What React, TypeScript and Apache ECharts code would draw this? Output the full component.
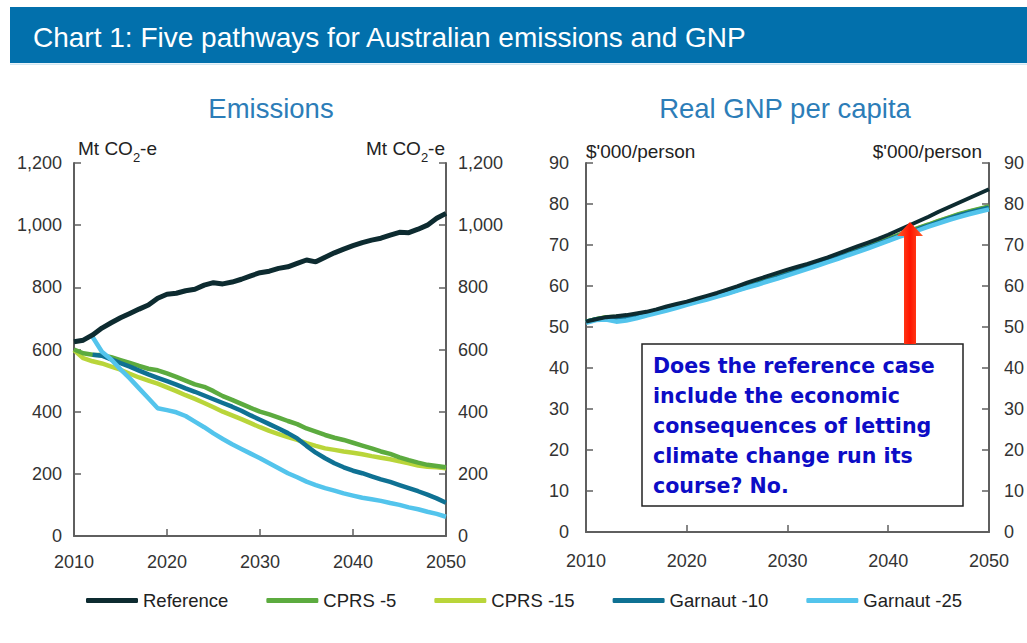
import React, { useEffect, useRef } from "react";
import * as echarts from "echarts";

const years = [
  2010, 2011, 2012, 2013, 2014, 2015, 2016, 2017, 2018, 2019,
  2020, 2021, 2022, 2023, 2024, 2025, 2026, 2027, 2028, 2029,
  2030, 2031, 2032, 2033, 2034, 2035, 2036, 2037, 2038, 2039,
  2040, 2041, 2042, 2043, 2044, 2045, 2046, 2047, 2048, 2049, 2050,
];

const seriesNames = ["Reference", "CPRS -5", "CPRS -15", "Garnaut -10", "Garnaut -25"];
const seriesColors = ["#0d2b30", "#5cab3f", "#b9d53a", "#0f7193", "#53c4ec"];

// Emissions, Mt CO2-e
const emReference = [
  625, 630, 647, 669, 686, 702, 716, 730, 743, 765,
  778, 781, 789, 794, 807, 815, 811, 817, 826, 837,
  847, 852, 861, 866, 877, 888, 882, 897, 911, 923,
  934, 944, 952, 958, 968, 977, 976, 987, 1000, 1022, 1038,
];
const emCprs5 = [
  600, 588, 583, 582, 575, 566, 557, 547, 538, 533,
  523, 512, 500, 488, 480, 466, 450, 438, 425, 412,
  400, 391, 381, 370, 360, 346, 336, 325, 316, 309,
  300, 291, 282, 272, 264, 253, 244, 236, 229, 225, 221,
];
const emCprs15 = [
  598, 572, 562, 555, 545, 535, 522, 510, 500, 490,
  478, 466, 453, 441, 428, 414, 400, 388, 376, 363,
  350, 338, 328, 318, 309, 299, 290, 282, 277, 272,
  268, 263, 257, 252, 247, 240, 234, 227, 223, 221, 218,
];
const emGarnaut10 = [
  null, null, 583, 580, 568, 556, 545, 532, 520, 509,
  498, 487, 475, 464, 452, 440, 428, 416, 403, 388,
  374, 360, 346, 331, 314, 290, 268, 250, 234, 221,
  210, 202, 192, 182, 174, 164, 154, 144, 133, 121, 107,
];
const emGarnaut25 = [
  null, null, 640, 593, 568, 536, 507, 475, 443, 411,
  405, 398, 386, 368, 350, 330, 312, 295, 280, 265,
  250, 234, 218, 202, 189, 175, 164, 154, 146, 137,
  130, 123, 118, 113, 106, 100, 92, 86, 78, 71, 62,
];

// Real GNP per capita, $'000/person
const gnpReference = [
  51.3, 51.9, 52.4, 52.6, 52.9, 53.3, 53.7, 54.3, 55.0, 55.6,
  56.2, 56.9, 57.6, 58.3, 59.1, 59.9, 60.8, 61.6, 62.4, 63.2,
  64.0, 64.7, 65.4, 66.2, 67.0, 67.9, 68.8, 69.7, 70.6, 71.5,
  72.5, 73.6, 74.7, 75.8, 76.9, 78.1, 79.2, 80.3, 81.4, 82.5, 83.6,
];
const gnpCprs5 = [
  51.3, 51.9, 52.4, 52.5, 52.7, 53.0, 53.4, 54.0, 54.6, 55.2,
  55.8, 56.5, 57.1, 57.8, 58.5, 59.3, 60.0, 60.8, 61.5, 62.3,
  63.1, 63.9, 64.7, 65.5, 66.3, 67.1, 68.0, 68.8, 69.7, 70.6,
  71.5, 72.4, 73.3, 74.2, 75.0, 75.9, 76.7, 77.5, 78.2, 78.8, 79.4,
];
const gnpCprs15 = [
  51.3, 51.9, 52.3, 52.4, 52.6, 52.9, 53.3, 53.9, 54.5, 55.1,
  55.7, 56.4, 57.0, 57.7, 58.4, 59.1, 59.9, 60.6, 61.4, 62.2,
  63.0, 63.8, 64.6, 65.4, 66.2, 67.0, 67.9, 68.7, 69.6, 70.5,
  71.4, 72.3, 73.2, 74.1, 74.9, 75.8, 76.6, 77.4, 78.1, 78.7, 79.3,
];
const gnpGarnaut10 = [
  51.3, 51.9, 52.2, 52.3, 52.5, 52.8, 53.2, 53.8, 54.4, 55.0,
  55.6, 56.3, 56.9, 57.6, 58.3, 59.0, 59.8, 60.5, 61.3, 62.1,
  62.9, 63.7, 64.5, 65.3, 66.1, 66.9, 67.7, 68.6, 69.4, 70.3,
  71.2, 72.1, 73.0, 73.9, 74.7, 75.6, 76.4, 77.2, 77.9, 78.5, 79.1,
];
const gnpGarnaut25 = [
  51.0, 51.7, 51.8, 51.3, 51.6, 52.1, 52.8, 53.4, 54.0, 54.7,
  55.4, 56.1, 56.7, 57.4, 58.1, 58.9, 59.6, 60.3, 61.1, 61.8,
  62.6, 63.4, 64.2, 65.0, 65.8, 66.6, 67.5, 68.3, 69.2, 70.1,
  71.0, 71.9, 72.7, 73.6, 74.5, 75.3, 76.1, 76.8, 77.5, 78.1, 78.7,
];

const emTicks = { min: 0, max: 1200, interval: 200 };
const gnpTicks = { min: 0, max: 90, interval: 10 };
const yearTicks = { min: 2010, max: 2050, interval: 10 };

const chartTitle = "Chart 1: Five pathways for Australian emissions and GNP";
const panelTitles = ["Emissions", "Real GNP per capita"];
const annotationLines = [
  "Does the reference case",
  "include the economic",
  "consequences of letting",
  "climate change run its",
  "course? No.",
];

const FONT = "'Liberation Sans', Arial, Helvetica, sans-serif";
const AXIS_COLOR = "#5f5f5f";
const LABEL_COLOR = "#333333";
const TITLE_BLUE = "#2c7db8";

const pairs = (vals: (number | null)[]) =>
  years.map((y, i) => [y, vals[i]]).filter((p) => p[1] !== null);

export default function App() {
  const ref = useRef<HTMLDivElement>(null);

  useEffect(() => {
    if (!ref.current) return;
    const chart = echarts.init(ref.current, undefined, { renderer: "svg" });

    const xAxisBase = (gridIndex: number, margin: number) => ({
      type: "value",
      gridIndex,
      min: yearTicks.min,
      max: yearTicks.max,
      interval: yearTicks.interval,
      splitLine: { show: false },
      axisLine: { show: true, lineStyle: { color: AXIS_COLOR, width: 2 } },
      axisTick: { show: true, inside: true, length: 7, lineStyle: { color: AXIS_COLOR, width: 1.5 } },
      axisLabel: {
        show: true,
        fontSize: 18,
        color: LABEL_COLOR,
        fontFamily: FONT,
        margin,
        formatter: (v: number) => String(v),
      },
    });

    const yAxisBase = (
      gridIndex: number,
      position: string,
      ticks: { min: number; max: number; interval: number },
      margin: number,
      comma: boolean
    ) => ({
      type: "value",
      gridIndex,
      position,
      min: ticks.min,
      max: ticks.max,
      interval: ticks.interval,
      splitLine: { show: false },
      axisLine: { show: true, onZero: false, lineStyle: { color: AXIS_COLOR, width: 2 } },
      axisTick: { show: true, inside: true, length: 7, lineStyle: { color: AXIS_COLOR, width: 1.5 } },
      axisLabel: {
        show: true,
        fontSize: 18,
        color: LABEL_COLOR,
        fontFamily: FONT,
        margin,
        formatter: (v: number) => (comma ? v.toLocaleString("en-US") : String(v)),
      },
    });

    const emData = [emReference, emCprs5, emCprs15, emGarnaut10, emGarnaut25];
    const gnpData = [gnpReference, gnpCprs5, gnpCprs15, gnpGarnaut10, gnpGarnaut25];
    // drawing order (later on top)
    const drawOrder = [2, 1, 3, 4, 0];

    const series: any[] = [];
    drawOrder.forEach((k) => {
      series.push({
        type: "line",
        name: seriesNames[k],
        xAxisIndex: 0,
        yAxisIndex: 0,
        data: pairs(emData[k]),
        showSymbol: false,
        symbol: "none",
        color: seriesColors[k],
        lineStyle: { width: k === 0 ? 5 : 4.5, color: seriesColors[k] },
      });
    });
    drawOrder.forEach((k) => {
      series.push({
        type: "line",
        name: seriesNames[k],
        xAxisIndex: 1,
        yAxisIndex: 2,
        data: pairs(gnpData[k]),
        showSymbol: false,
        symbol: "none",
        color: seriesColors[k],
        lineStyle: { width: k === 0 ? 4 : 4.5, color: seriesColors[k] },
      });
    });

    const unitText = (x: number, align: string, sub: boolean, txt: string) => ({
      type: "text",
      x,
      y: sub ? 148 : 151,
      style: sub
        ? {
            text: "{n|Mt CO}{s|2}{n|-e}",
            align,
            verticalAlign: "middle",
            rich: {
              n: { fontSize: 19, fontFamily: FONT, fill: "#222", lineHeight: 24, verticalAlign: "middle" },
              s: { fontSize: 13, fontFamily: FONT, fill: "#222", lineHeight: 24, verticalAlign: "bottom", padding: [0, 0, -4, 0] },
            },
          }
        : {
            text: txt,
            align,
            verticalAlign: "middle",
            fontSize: 19,
            fontFamily: FONT,
            fill: "#222",
          },
    });

    const option: any = {
      animation: false,
      backgroundColor: "#ffffff",
      grid: [
        { left: 74, top: 163, width: 372, height: 373, containLabel: false },
        { left: 586, top: 163, width: 403, height: 369, containLabel: false },
      ],
      xAxis: [xAxisBase(0, 17), xAxisBase(1, 20)],
      yAxis: [
        yAxisBase(0, "left", emTicks, 12, true),
        yAxisBase(0, "right", emTicks, 12, true),
        yAxisBase(1, "left", gnpTicks, 17, false),
        yAxisBase(1, "right", gnpTicks, 15, false),
      ],
      legend: {
        data: seriesNames.map((n) => ({ name: n, icon: "roundRect" })),
        left: 86,
        top: 591,
        padding: 0,
        itemWidth: 52,
        itemHeight: 5,
        itemGap: 38,
        textStyle: { fontSize: 18.5, color: "#222", fontFamily: FONT },
      },
      series,
      graphic: [
        {
          type: "rect",
          shape: { x: 10, y: 7, width: 1017, height: 56 },
          style: { fill: "#0270ac" },
        },
        {
          type: "rect",
          shape: { x: 10, y: 63.5, width: 1017, height: 1.5 },
          style: { fill: "#d3e8f3" },
        },
        {
          type: "text",
          x: 33,
          y: 37,
          style: {
            text: chartTitle,
            fontSize: 28,
            fontFamily: FONT,
            fill: "#ffffff",
            verticalAlign: "middle",
          },
        },
        {
          type: "text",
          x: 271,
          y: 108,
          style: { text: panelTitles[0], fontSize: 27.5, fontFamily: FONT, fill: TITLE_BLUE, align: "center", verticalAlign: "middle" },
        },
        {
          type: "text",
          x: 785,
          y: 108,
          style: { text: panelTitles[1], fontSize: 27.5, fontFamily: FONT, fill: TITLE_BLUE, align: "center", verticalAlign: "middle" },
        },
        unitText(78, "left", true, ""),
        unitText(445, "right", true, ""),
        unitText(586, "left", false, "$'000/person"),
        unitText(982, "right", false, "$'000/person"),
        {
          type: "rect",
          z: 10,
          shape: { x: 642, y: 344, width: 321, height: 162 },
          style: { fill: "#ffffff", stroke: "#222222", lineWidth: 1.5 },
        },
        {
          type: "text",
          z: 11,
          x: 653,
          y: 351,
          style: {
            text: annotationLines.join("\n"),
            fontSize: 20.6,
            fontWeight: "bold",
            fontFamily: "'DejaVu Sans', Verdana, sans-serif",
            fill: "#0c0cc6",
            lineHeight: 30,
            verticalAlign: "top",
          },
        },
        {
          type: "polygon",
          z: 12,
          shape: {
            points: [
              [904, 344],
              [904, 236],
              [897, 236],
              [910, 222],
              [923, 236],
              [916, 236],
              [916, 344],
            ],
          },
          style: {
            fill: new echarts.graphic.LinearGradient(0, 0, 1, 0, [
              { offset: 0, color: "#ff5a2a" },
              { offset: 0.5, color: "#ff1500" },
              { offset: 1, color: "#ff5a2a" },
            ]),
          },
        },
      ],
    };

    chart.setOption(option);
    return () => chart.dispose();
  }, []);

  return (
    <div
      ref={ref}
      style={{ position: "absolute", left: 0, top: 0, width: 1027, height: 643, background: "#fff" }}
    />
  );
}
